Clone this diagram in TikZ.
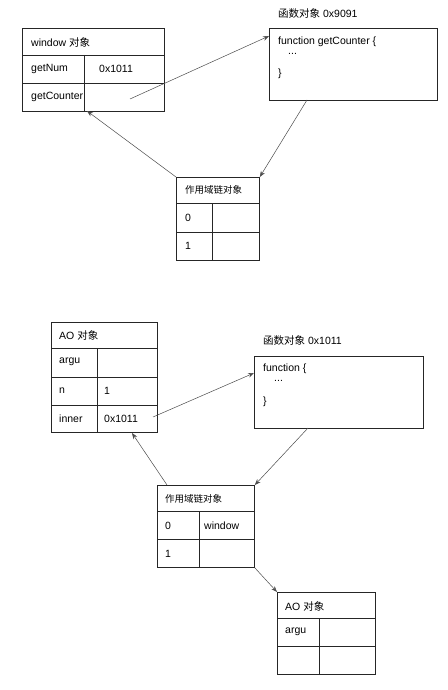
\documentclass[tikz,border=0pt]{standalone}
\usepackage{fontspec}
\setmainfont{Liberation Sans}
\newfontfamily\cjk{Noto Sans CJK SC}
\usetikzlibrary{arrows.meta}
\begin{document}
\begin{tikzpicture}[x=1pt,y=-1pt,
  box/.style={draw=black!85,line width=0.8pt,inner sep=0pt,anchor=north west},
  divl/.style={draw=black!85,line width=0.8pt},
  txt/.style={anchor=west,inner sep=0pt,font=\fontsize{10.5}{12}\selectfont},
  arr/.style={draw=black!70,line width=0.5pt,-{Stealth[length=6pt,width=4.5pt]}}]
\useasboundingbox[fill=white] (0,0) rectangle (447,690);

% ---------- top part ----------
\node[box,minimum width=142pt,minimum height=83pt] (win) at (22,28) {};
\draw[divl] (22,55) -- (164,55);
\draw[divl] (22,83) -- (164,83);
\draw[divl] (84,55) -- (84,111);
\node[txt] (wt) at (31,42) {window {\cjk 对象}};
\node[txt] (wn) at (31,69) {getNum};
\node[txt] (wnv) at (99,69) {0x1011};
\node[txt] (wg) at (31,97) {getCounter};

\node[txt] (f1l) at (278,14) {{\cjk 函数对象} 0x9091};
\node[box,minimum width=168pt,minimum height=72pt] (fn1) at (269,28) {};
\node[txt] (f1a) at (278,42) {function getCounter \{};
\node[txt] (f1b) at (288,54) {...};
\node[txt] (f1c) at (278,74) {\}};

\node[box,minimum width=83pt,minimum height=83pt] (sc1) at (176,177) {};
\draw[divl] (176,203) -- (259,203);
\draw[divl] (176,232) -- (259,232);
\draw[divl] (212,203) -- (212,260);
\node[txt] (s1t) at (185,190) {\cjk\fontsize{9.5}{11}\selectfont 作用域链对象};
\node[txt] (s1a) at (185,218) {0};
\node[txt] (s1b) at (185,246) {1};

\coordinate (gcsrc) at (130,99);
\coordinate (fn1in) at (269,36);
\coordinate (fn1out) at (307,100);
\coordinate (winin) at (87,111);
\draw[arr] (gcsrc) -- (fn1in);
\draw[arr] (fn1out) -- (sc1.north east);
\draw[arr] (sc1.north west) -- (winin);

% ---------- bottom part ----------
\node[box,minimum width=106pt,minimum height=110pt] (ao1) at (51,322) {};
\draw[divl] (51,348) -- (157,348);
\draw[divl] (51,377) -- (157,377);
\draw[divl] (51,405) -- (157,405);
\draw[divl] (97,348) -- (97,432);
\node[txt] (a1t) at (59,335) {AO {\cjk 对象}};
\node[txt] (a1a) at (59,362) {argu};
\node[txt] (a1n) at (59,391) {n};
\node[txt] (a1nv) at (104,391) {1};
\node[txt] (a1i) at (59,419) {inner};
\node[txt] (a1iv) at (104,419) {0x1011};

\node[txt] (f2l) at (263,341) {{\cjk 函数对象} 0x1011};
\node[box,minimum width=169pt,minimum height=72pt] (fn2) at (254,356) {};
\node[txt] (f2a) at (263,369) {function \{};
\node[txt] (f2b) at (274,381) {...};
\node[txt] (f2c) at (263,402) {\}};

\node[box,minimum width=97pt,minimum height=82pt] (sc2) at (157,485) {};
\draw[divl] (157,511) -- (254,511);
\draw[divl] (157,539) -- (254,539);
\draw[divl] (199,511) -- (199,567);
\node[txt] (s2t) at (165,499) {\cjk\fontsize{9.5}{11}\selectfont 作用域链对象};
\node[txt] (s2a) at (165,526) {0};
\node[txt] (s2av) at (204,526) {window};
\node[txt] (s2b) at (165,554) {1};

\node[box,minimum width=98pt,minimum height=82pt] (ao2) at (277,592) {};
\draw[divl] (277,618) -- (375,618);
\draw[divl] (277,646) -- (375,646);
\draw[divl] (319,618) -- (319,674);
\node[txt] (a2t) at (285,606) {AO {\cjk 对象}};
\node[txt] (a2a) at (285,632) {argu};

\coordinate (insrc) at (153,417);
\coordinate (fn2in) at (254,373);
\coordinate (fn2out) at (308,428);
\coordinate (sc2src) at (167,485);
\coordinate (ao1in) at (132,433);
\draw[arr] (insrc) -- (fn2in);
\draw[arr] (fn2out) -- (sc2.north east);
\draw[arr] (sc2src) -- (ao1in);
\draw[arr] (sc2.south east) -- (ao2.north west);
\end{tikzpicture}
\end{document}
